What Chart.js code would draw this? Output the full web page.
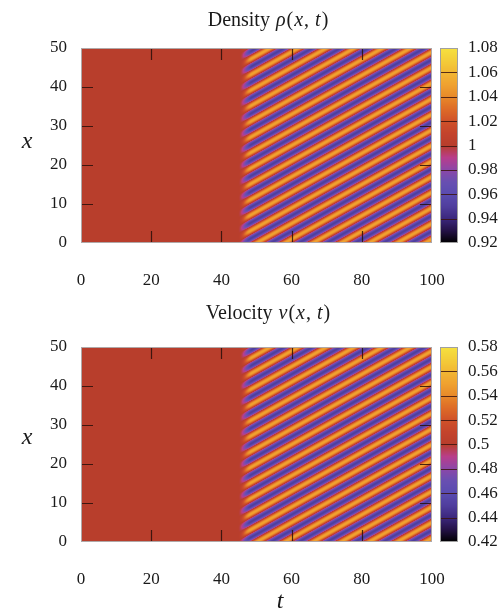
<!DOCTYPE html>
<html lang="en">
<head>
<meta charset="UTF-8">
<title>Density and velocity</title>
<script src="https://cdn.jsdelivr.net/npm/chart.js"></script>
<style>
    body {
        margin: 0;
        background: #fff;
        width: 503px;
        height: 613px;
        overflow: hidden;
        position: relative;
        font-family: 'Liberation Serif', 'DejaVu Serif', serif;
        color: #1a1a1a;
    }
    .panel { position: absolute; left: 0; }
    #p1 { top: 0; }
    #p2 { top: 300px; }
    .lbl { position: absolute; white-space: nowrap; line-height: 1; }
    .title { font-size: 20px; transform: translateX(-50%); }
    .title i { margin: 0 1px; }
    .axis { font-size: 24px; font-style: italic; transform: translate(-50%, -50%); }
    i { font-style: italic; }
</style>
</head>
<body>

<canvas class="panel" id="p1" width="503" height="300"></canvas>
<canvas class="panel" id="p2" width="503" height="313"></canvas>

<div class="lbl title" style="left:268px; top:9px;">Density <i>ρ</i>(<i>x</i>, <i>t</i>)</div>
<div class="lbl title" style="left:268px; top:302px;">Velocity <i>v</i>(<i>x</i>, <i>t</i>)</div>
<div class="lbl axis" style="left:27px; top:140px;">x</div>
<div class="lbl axis" style="left:27px; top:436px;">x</div>
<div class="lbl axis" style="left:280px; top:600px;">t</div>

<script>
// ---- data ----
const tTicks = [0, 20, 40, 60, 80, 100];
const xTicks = [0, 10, 20, 30, 40, 50];
const rhoTicks = [0.92, 0.94, 0.96, 0.98, 1, 1.02, 1.04, 1.06, 1.08];
const vTicks = [0.42, 0.44, 0.46, 0.48, 0.5, 0.52, 0.54, 0.56, 0.58];

// uniform state before the wave train arrives
const rhoBase = 1.0;
const vBase = 0.5;
// half height of the stripes (yellow crest / purple trough)
const rhoAmp = 0.05;
const vAmp = 0.05;

// where the stripes start (t) along x
const frontX = [0, 10, 20, 30, 40, 50];
const frontT = [46.2, 46.3, 46.4, 46.5, 46.6, 46.8];

// yellow crests: x where each crest line meets t = 100, and their slope dx/dt
const crestX100 = [-3, 1, 5, 9, 13, 17, 21, 25, 29, 33, 37, 41, 45, 49, 53,
                   57, 61, 65, 69, 73, 77, 81];
const crestSpeed = 0.5;

// colour map (gnuplot-like), stops evenly spread over the colour range
const palette = [
    [0, 0, 0], [36, 18, 70], [60, 40, 125], [80, 62, 158], [90, 76, 176],
    [104, 80, 178], [140, 72, 168], [184, 62, 140], [184, 62, 44],
    [196, 68, 44], [208, 82, 42], [222, 108, 40], [232, 138, 42],
    [240, 162, 48], [242, 184, 52], [244, 206, 58], [246, 226, 64]
];

function lerpArr(xs, ys, x) {
    if (x <= xs[0]) return ys[0];
    for (let i = 1; i < xs.length; i++) {
        if (x <= xs[i]) {
            const f = (x - xs[i - 1]) / (xs[i] - xs[i - 1]);
            return ys[i - 1] + f * (ys[i] - ys[i - 1]);
        }
    }
    return ys[ys.length - 1];
}

function colorAt(f) {
    f = Math.max(0, Math.min(1, f)) * (palette.length - 1);
    const i = Math.min(palette.length - 2, Math.floor(f));
    const k = f - i;
    const a = palette[i], b = palette[i + 1];
    return [a[0] + k * (b[0] - a[0]), a[1] + k * (b[1] - a[1]), a[2] + k * (b[2] - a[2])];
}

// stripe shape at (t, x): +1 on a crest, -1 halfway between crests, 0 before the front
function stripe(t, x) {
    const f = lerpArr(frontX, frontT, x);
    let env = (t - f + 1.5) / 3.5;
    if (env <= 0) return 0;
    env = Math.min(1, env);
    env = env * env * (3 - 2 * env);
    const lines = crestX100.map(c => c - crestSpeed * (100 - t));
    let phase = 0;
    for (let i = 1; i < lines.length; i++) {
        if (x <= lines[i]) {
            phase = (x - lines[i - 1]) / (lines[i] - lines[i - 1]);
            break;
        }
    }
    return env * Math.cos(2 * Math.PI * phase);
}

const heatmapPlugin = {
    id: 'heatmap',
    beforeDatasetsDraw(chart, args, opts) {
        const { ctx, chartArea: a, scales } = chart;
        const w = Math.round(a.right - a.left), h = Math.round(a.bottom - a.top);
        const img = ctx.createImageData(w, h);
        const lo = scales.c.min, hi = scales.c.max;
        for (let py = 0; py < h; py++) {
            const x = scales.y.getValueForPixel(a.top + py + 0.5);
            for (let px = 0; px < w; px++) {
                const t = scales.x.getValueForPixel(a.left + px + 0.5);
                const val = opts.base + opts.amp * stripe(t, x);
                const c = colorAt((val - lo) / (hi - lo));
                const o = (py * w + px) * 4;
                img.data[o] = c[0]; img.data[o + 1] = c[1]; img.data[o + 2] = c[2]; img.data[o + 3] = 255;
            }
        }
        ctx.putImageData(img, Math.round(a.left), Math.round(a.top));

        // colour bar next to the plot
        const bx = a.right + 8, bw = 18;
        for (let py = Math.round(a.top); py < Math.round(a.bottom); py++) {
            const v = scales.c.getValueForPixel(py + 0.5);
            const c = colorAt((v - lo) / (hi - lo));
            ctx.fillStyle = `rgb(${c[0] | 0},${c[1] | 0},${c[2] | 0})`;
            ctx.fillRect(bx, py, bw, 1);
        }
        ctx.strokeStyle = 'rgba(60,20,15,0.85)';
        ctx.lineWidth = 1;
        scales.c.ticks.forEach(tk => {
            if (tk.value <= lo || tk.value >= hi) return;
            const y = Math.round(scales.c.getPixelForValue(tk.value)) + 0.5;
            ctx.beginPath(); ctx.moveTo(bx, y); ctx.lineTo(bx + bw, y); ctx.stroke();
        });
        ctx.strokeStyle = '#a0a0a0';
        ctx.strokeRect(bx + 0.5, a.top + 0.5, bw - 1, a.bottom - a.top - 1);
    },
    afterDatasetsDraw(chart) {
        const { ctx, chartArea: a, scales } = chart;
        const len = 12;
        ctx.save();
        ctx.strokeStyle = 'rgba(40,15,10,0.85)';
        ctx.lineWidth = 1.2;
        scales.x.ticks.forEach(tk => {
            if (tk.value <= 0 || tk.value >= 100) return;
            const x = Math.round(scales.x.getPixelForValue(tk.value)) + 0.5;
            ctx.beginPath();
            ctx.moveTo(x, a.bottom); ctx.lineTo(x, a.bottom - len);
            ctx.moveTo(x, a.top); ctx.lineTo(x, a.top + len);
            ctx.stroke();
        });
        scales.y.ticks.forEach(tk => {
            if (tk.value <= 0 || tk.value >= 50) return;
            const y = Math.round(scales.y.getPixelForValue(tk.value)) + 0.5;
            ctx.beginPath();
            ctx.moveTo(a.left, y); ctx.lineTo(a.left + len, y);
            ctx.moveTo(a.right, y); ctx.lineTo(a.right - len, y);
            ctx.stroke();
        });
        ctx.strokeStyle = '#b0a8a8';
        ctx.lineWidth = 1;
        ctx.strokeRect(a.left + 0.5, a.top + 0.5, a.right - a.left - 1, a.bottom - a.top - 1);
        ctx.restore();
    }
};

const tickFont = { family: "'Liberation Serif', serif", size: 17 };

function makePanel(id, cTicks, base, amp, topPad, axisH) {
    const fixed = ticks => scale => { scale.ticks = ticks.map(v => ({ value: v })); };
    return new Chart(document.getElementById(id), {
        type: 'scatter',
        data: { datasets: [{ data: [] }] },
        options: {
            responsive: false,
            animation: false,
            layout: { padding: { top: topPad, bottom: 0, left: 0, right: 0 } },
            plugins: {
                legend: { display: false },
                tooltip: { enabled: false },
                heatmap: { base: base, amp: amp }
            },
            scales: {
                x: {
                    type: 'linear', position: 'bottom', min: 0, max: 100,
                    afterBuildTicks: fixed(tTicks),
                    afterFit: s => { s.height = axisH; },
                    grid: { display: false, drawTicks: false },
                    border: { display: false },
                    ticks: { padding: 27, color: '#1a1a1a', font: tickFont, maxRotation: 0 }
                },
                y: {
                    type: 'linear', position: 'left', min: 0, max: 50,
                    afterBuildTicks: fixed(xTicks),
                    afterFit: s => { s.width = 81; },
                    grid: { display: false, drawTicks: false },
                    border: { display: false },
                    ticks: { padding: 14, color: '#1a1a1a', font: tickFont }
                },
                c: {
                    type: 'linear', position: 'right',
                    min: cTicks[0], max: cTicks[cTicks.length - 1],
                    afterBuildTicks: fixed(cTicks),
                    afterFit: s => { s.width = 71; },
                    grid: { display: false, drawTicks: false },
                    border: { display: false },
                    ticks: { padding: 36, color: '#1a1a1a', font: tickFont, callback: v => String(v) }
                }
            }
        },
        plugins: [heatmapPlugin]
    });
}

makePanel('p1', rhoTicks, rhoBase, rhoAmp, 48, 57);
makePanel('p2', vTicks, vBase, vAmp, 47, 71);
</script>
</body>
</html>
